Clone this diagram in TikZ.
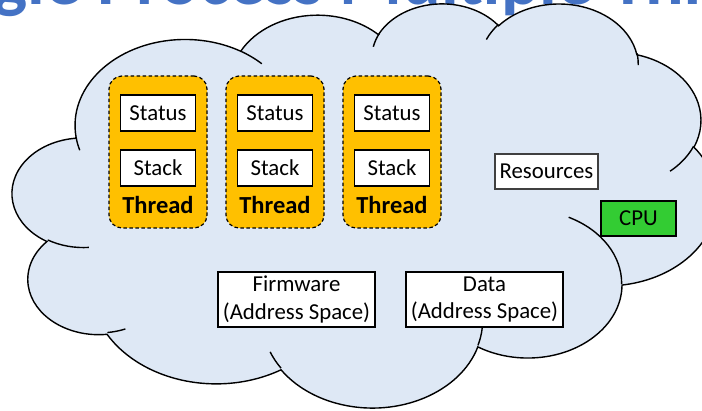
\documentclass[tikz,border=0pt]{standalone}
\usepackage{fontspec}
\setmainfont{Carlito}
\definecolor{cloudfill}{HTML}{DEE8F5}
\definecolor{threadgold}{HTML}{FFC000}
\definecolor{cpugreen}{HTML}{33CC33}
\definecolor{titleblue}{HTML}{4472C4}
\newcommand\cloudarc[4]{arc[x radius=#1,y radius=#2,
  start angle={atan2((#1)*sin(#3),(#2)*cos(#3))},
  delta angle={mod(atan2((#1)*sin(#3+#4),(#2)*cos(#3+#4))-atan2((#1)*sin(#3),(#2)*cos(#3))+720,360)}]}

\begin{document}
\begin{tikzpicture}[x=1pt,y=1pt,
  cloudline/.style={draw=black,line width=1.4pt},
  threadbox/.style={draw=black,line width=1.2pt,dash pattern=on 3.5pt off 2.5pt,
    rounded corners=13pt,fill=threadgold,minimum width=98pt,minimum height=152pt},
  box/.style={draw=black,line width=1.3pt,fill=white,inner sep=0pt,
    minimum width=75pt,minimum height=36pt,font=\fontsize{22.8}{27.5}\selectfont},
  threadlabel/.style={inner sep=0pt,font=\fontsize{24.5}{29}\selectfont\bfseries}]
  \useasboundingbox (0,0) rectangle (702,410);
  \clip (0,0) rectangle (702,410);

  \node[anchor=base west,inner sep=0pt,text=titleblue,
    font=\fontsize{72}{86}\selectfont\bfseries] (title) at (-97,405)
    {Single Process Multiple Threads};

  \begin{scope}[shift={(12.5,407.4)},x={(1.6296pt,0)},y={(0,-0.93519pt)}]
    \path[cloudline,fill=cloudfill] (39,143.70)
      \cloudarc{67.53}{91.90}{-190.4875}{123.7805}
      \cloudarc{53.33}{72.67}{-144.1024}{89.9452}
      \cloudarc{43.65}{59.45}{-145.8079}{99.7230}
      \cloudarc{48.57}{65.95}{-130.9861}{117.2417}
      \cloudarc{53.33}{72.73}{-78.7089}{109.0269}
      \cloudarc{67.75}{92.20}{-46.2673}{130.2690}
      \cloudarc{57.85}{78.67}{0.6250}{114.0333}
      \cloudarc{67.52}{92.15}{22.4516}{115.1726}
      \cloudarc{77.20}{105.43}{66.2426}{75.7110}
      \cloudarc{43.60}{59.18}{-274.9421}{146.7356}
      \cloudarc{43.45}{59.45}{-246.8285}{152.5189} -- cycle;
    \foreach \px/\py/\wr/\hr/\st/\sw in {
        46.93/261.77/43.45/59.45/86.742/26.430,
        69.28/348.99/43.60/59.18/73.610/11.447,
        164.78/390.90/67.52/92.15/137.624/14.081,
        288.27/347.51/67.52/92.15/6.453/15.998,
        341.29/229.54/57.85/78.67/-70.292/70.917,
        417.98/153.54/53.33/72.73/30.318/27.752,
        383.24/54.26/48.57/65.95/-13.744/14.859,
        290.78/39.52/48.57/65.95/-149.181/18.195,
        221.41/47.20/43.65/59.45/-163.494/17.686,
        140.00/51.92/67.53/91.90/-66.707/12.319,
        41.27/157.89/67.53/91.90/157.654/11.858}
      \draw[cloudline] (\px,\py) \cloudarc{\wr}{\hr}{\st}{\sw};
  \end{scope}

  \foreach \n/\x in {1/158,2/275,3/392} {
    \node[threadbox] (thread\n) at (\x,258) {};
    \node[box] (status\n) at (\x,297) {Status};
    \node[box] (stack\n) at (\x,242) {Stack};
    \node[threadlabel] (label\n) at (\x,205) {Thread};
  }

  \node[box,minimum width=103pt,minimum height=35pt,draw=black!75] (resources) at (546.5,238.5) {Resources};
  \node[box,minimum height=35pt,fill=cpugreen] (cpu) at (638.5,191.5) {CPU};
  \node[box,minimum width=157pt,minimum height=55pt,align=center] (firmware) at (296.5,110.5) {Firmware\\(Address Space)};
  \node[box,minimum width=157pt,minimum height=55pt,align=center] (data) at (484.5,110.5) {Data\\(Address Space)};
\end{tikzpicture}
\end{document}
